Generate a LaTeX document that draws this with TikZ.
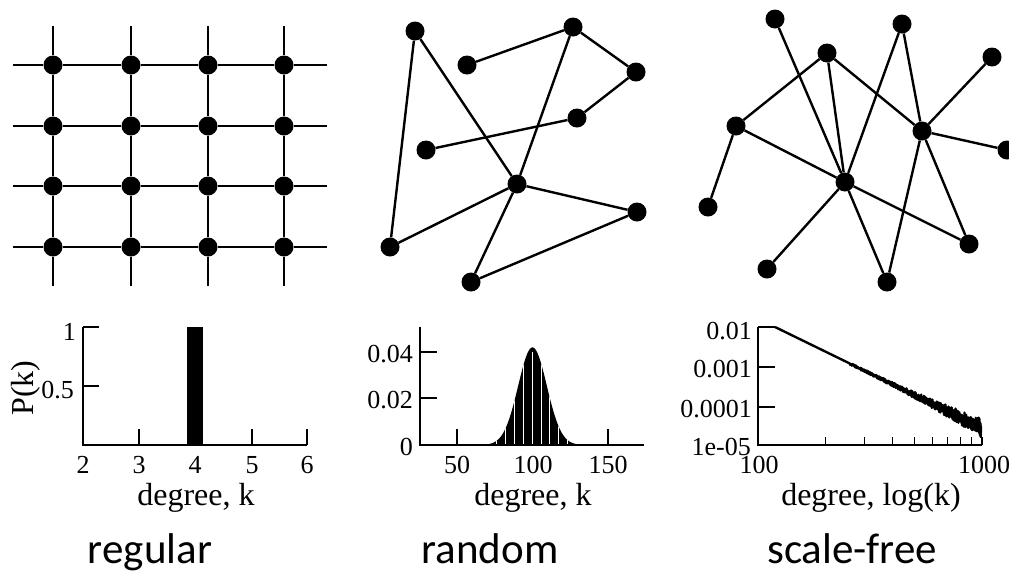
\documentclass[tikz,border=0pt]{standalone}
\usepackage{fontspec}
\newfontfamily\plotfont{Liberation Serif}
\newfontfamily\capfont{Carlito}
\begin{document}
\begin{tikzpicture}[x=1pt,y=-1pt,
  dot/.style={circle, fill=black, draw=none, inner sep=0pt, minimum size=19pt},
  edge/.style={line width=2.4pt},
  axisline/.style={line width=1.2pt},
  ticklab/.style={inner sep=0pt, font=\plotfont\fontsize{26}{30}\selectfont},
  axislab/.style={inner sep=0pt, anchor=base, font=\plotfont\fontsize{32}{36}\selectfont},
  caption/.style={inner sep=0pt, anchor=base, font=\capfont\fontsize{43}{48}\selectfont}]
\useasboundingbox (0,0) rectangle (1009,574);
\clip (0,0) rectangle (1009,574);
\fill[white] (0,0) rectangle (1009,574);

% ---------------- regular lattice ----------------
\foreach \r/\y in {1/65,2/126,3/186,4/247}
  \foreach \c/\x in {1/53,2/131,3/208,4/284}
    \node[dot] (g\r\c) at (\x,\y) {};
\foreach \r/\y in {1/65,2/126,3/186,4/247} {
  \coordinate (hL\r) at (13,\y);
  \coordinate (hR\r) at (327,\y);
  \draw[edge] (hL\r) -- (g\r1) -- (g\r2) -- (g\r3) -- (g\r4) -- (hR\r);
}
\foreach \c/\x in {1/53,2/131,3/208,4/284} {
  \coordinate (vT\c) at (\x,26);
  \coordinate (vB\c) at (\x,286);
  \draw[edge] (vT\c) -- (g1\c) -- (g2\c) -- (g3\c) -- (g4\c) -- (vB\c);
}

% ---------------- random graph ----------------
\node[dot] (rA) at (415,31) {};
\node[dot] (rB) at (573,27) {};
\node[dot] (rC) at (467,65) {};
\node[dot] (rD) at (636,72) {};
\node[dot] (rE) at (577,118) {};
\node[dot] (rF) at (426,150) {};
\node[dot] (rG) at (517,184) {};
\node[dot] (rH) at (637,212) {};
\node[dot] (rI) at (390,247) {};
\node[dot] (rJ) at (471,282) {};
\draw[edge] (rA) -- (rI);
\draw[edge] (rA) -- (rG);
\draw[edge] (rC) -- (rB);
\draw[edge] (rB) -- (rD);
\draw[edge] (rD) -- (rE);
\draw[edge] (rE) -- (rF);
\draw[edge] (rB) -- (rG);
\draw[edge] (rG) -- (rH);
\draw[edge] (rG) -- (rI);
\draw[edge] (rG) -- (rJ);
\draw[edge] (rJ) -- (rH);

% ---------------- scale-free graph ----------------
\node[dot] (sa) at (775,19) {};
\node[dot] (sb) at (902,24) {};
\node[dot] (sc) at (827,53) {};
\node[dot] (sd) at (992,57) {};
\node[dot] (se) at (736,126) {};
\node[dot] (sf) at (922,131) {};
\node[dot] (sg) at (1007,150) {};
\node[dot] (sh) at (845,182) {};
\node[dot] (si) at (708,207) {};
\node[dot] (sj) at (969,244) {};
\node[dot] (sk) at (767,269) {};
\node[dot] (sl) at (887,282) {};
\draw[edge] (sa) -- (sh);
\draw[edge] (sc) -- (se);
\draw[edge] (sc) -- (sh);
\draw[edge] (sc) -- (sf);
\draw[edge] (sb) -- (sh);
\draw[edge] (sb) -- (sf);
\draw[edge] (sd) -- (sf);
\draw[edge] (sf) -- (sg);
\draw[edge] (se) -- (sh);
\draw[edge] (se) -- (si);
\draw[edge] (sh) -- (sj);
\draw[edge] (sh) -- (sk);
\draw[edge] (sh) -- (sl);
\draw[edge] (sf) -- (sl);
\draw[edge] (sf) -- (sj);

% ---------------- plot 1: regular ----------------
\fill (187,327) rectangle (203,445);
\draw[axisline] (83,327) -- (83,445) -- (307,445);
\draw[axisline] (83,327) -- (99,327);
\draw[axisline] (83,386) -- (99,386);
\foreach \x in {139,252,307} \draw[axisline] (\x,445) -- (\x,429);
\node[ticklab, anchor=east] at (76,332) {1};
\node[ticklab, anchor=east] at (74,390) {0.5};
\foreach \x/\t in {83/2,139/3,195/4,252/5,307/6}
  \node[ticklab, anchor=base] at (\x,473) {\t};
\node[inner sep=0pt, rotate=90, font=\plotfont\fontsize{32}{36}\selectfont] at (26,388) {P(k)};
\node[axislab] at (196,505) {degree, k};

% ---------------- plot 2: random ----------------
\fill (484,445) -- plot[domain=-32:32, samples=129] ({532.5+1.51*\x},{445-97.6*exp(-\x*\x/180.5)}) -- (581,445) -- cycle;
\begin{scope}
  \clip (484,445) -- plot[domain=-32:32, samples=129] ({532.5+1.51*\x},{445-97.6*exp(-\x*\x/180.5)}) -- (581,445) -- cycle;
  \foreach \x/\t in {496/392,505/372,514/360,523/353,532/352,541/354,549.5/360,558/372,567/392}
    \draw[white, line width=0.9pt] (\x,446) -- (\x,\t);
\end{scope}
\draw[axisline] (420,327) -- (420,445) -- (644,445);
\draw[axisline] (420,352) -- (437,352);
\draw[axisline] (420,398) -- (437,398);
\foreach \x in {457,608} \draw[axisline] (\x,445) -- (\x,429);
\node[ticklab, anchor=east] at (413,354) {0.04};
\node[ticklab, anchor=east] at (413,400) {0.02};
\node[ticklab, anchor=east] at (413,447) {0};
\foreach \x/\t in {457/50,533/100,608/150}
  \node[ticklab, anchor=base] at (\x,473) {\t};
\node[axislab] at (533,505) {degree, k};

% ---------------- plot 3: scale-free ----------------
% solid band that widens to the right
\fill plot[domain=840:981, samples=60]
  (\x,{327+0.488*(\x-775)-5.5*((\x-840)/141)*((\x-840)/141)})
  -- plot[domain=981:840, samples=60]
  (\x,{327+0.488*(\x-775)+6.5*((\x-840)/141)*((\x-840)/141)}) -- cycle;
\pgfmathsetseed{4242}
\draw[line width=2.4pt, line join=round] plot[domain=775:981, samples=900]
  (\x,{327+0.488*(\x-775)+rand*(\x>850)*(1.2+8.5*((\x-850)/131)*((\x-850)/131))});
\draw[axisline] (758,327) -- (758,445) -- (982,445);
\draw[axisline] (758,327) -- (775,327);
\draw[axisline] (758,367) -- (775,367);
\draw[axisline] (758,407) -- (775,407);
\foreach \n in {2,...,9}
  \draw[axisline] ({758+224*log10(\n)},445) -- ({758+224*log10(\n)},437);
\draw[axisline] (982,445) -- (982,437);
\node[ticklab, anchor=east] at (752,331) {0.01};
\node[ticklab, anchor=east] at (752,369) {0.001};
\node[ticklab, anchor=east] at (752,409) {0.0001};
\node[ticklab, anchor=east] at (751,447) {1e-05};
\node[ticklab, anchor=base] at (759,473) {100};
\node[ticklab, anchor=base] at (984,473) {1000};
\node[axislab] at (871,505) {degree, log(k)};

% ---------------- captions ----------------
\node[caption] at (150,563) {regular};
\node[caption] at (490,563) {random};
\node[caption] at (852,563) {scale-free};
\end{tikzpicture}
\end{document}
